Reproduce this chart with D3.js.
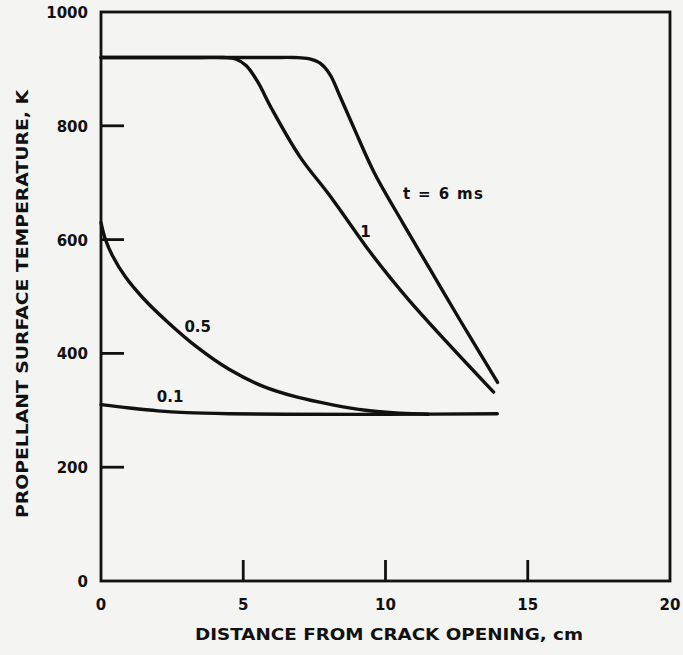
<!DOCTYPE html>
<html>
<head>
<meta charset="utf-8">
<script src="https://cdn.jsdelivr.net/npm/d3@7"></script>
<style>
  html, body { margin: 0; padding: 0; background: #f4f4f2; }
  svg { display: block; }
  text { font-family: "DejaVu Sans", "Liberation Sans", sans-serif; font-weight: bold; fill: #111; }
</style>
</head>
<body>
<div id="chart"></div>
<script>
// distance from crack opening (cm) and surface temperature (K) for each time
var x_6ms = [0, 3.0, 6.0, 6.8, 7.3, 7.7, 8.05, 8.4, 8.9, 9.6, 10.6, 11.6, 12.6, 13.94];
var t_6ms = [920, 920, 920, 920, 918, 910, 890, 852, 795, 718, 630, 545, 460, 349];

var x_1ms = [0, 2.0, 3.5, 4.3, 4.75, 5.1, 5.5, 6.0, 7.0, 8.0, 9.0, 9.4, 10.8, 13.8];
var t_1ms = [920, 920, 920, 920, 917, 906, 878, 830, 745, 680, 610, 582, 495, 332];

var x_05ms = [0, 0.15, 0.4, 0.85, 1.5, 2.3, 3.4, 4.5, 5.7, 6.9, 8.1, 9.3, 10.5, 11.5];
var t_05ms = [630, 601, 572, 535, 496, 457, 410, 372, 342, 323, 310, 300, 295, 293];

var x_01ms = [0, 1, 2, 3, 4.5, 6.5, 10, 13.93];
var t_01ms = [310, 304, 299, 296, 294, 293, 293, 294];

var curveLabels = ["t = 6 ms", "1", "0.5", "0.1"];
var xTicks = [0, 5, 10, 15, 20];
var yTicks = [0, 200, 400, 600, 800, 1000];

var w = 683;
var h = 655;
var margin = {left: 101, right: 13, top: 12, bottom: 74};

var svg = d3.select("#chart")
            .append("svg")
            .attr("width", w)
            .attr("height", h);

var x = d3.scaleLinear().domain([0, 20]).range([margin.left, w - margin.right]);
var y = d3.scaleLinear().domain([0, 1000]).range([h - margin.bottom, margin.top]);

// plot frame
svg.append("rect")
    .attr("x", x(0))
    .attr("y", y(1000))
    .attr("width", x(20) - x(0))
    .attr("height", y(0) - y(1000))
    .attr("fill", "none")
    .attr("stroke", "#111")
    .attr("stroke-width", 2.8);

// y ticks point inward
svg.selectAll(".ytick")
    .data(yTicks.filter(function(d) { return d > 0 && d < 1000; }))
    .enter()
    .append("line")
    .attr("x1", x(0))
    .attr("x2", x(0) + 23)
    .attr("y1", function(d) { return y(d); })
    .attr("y2", function(d) { return y(d); })
    .attr("stroke", "#111")
    .attr("stroke-width", 2.8);

svg.selectAll(".ylab")
    .data(yTicks)
    .enter()
    .append("text")
    .attr("x", x(0) - 13)
    .attr("y", function(d) { return y(d) + 6; })
    .attr("text-anchor", "end")
    .attr("font-size", 15)
    .text(function(d) { return d; });

// x ticks point upward
svg.selectAll(".xtick")
    .data(xTicks.filter(function(d) { return d > 0 && d < 20; }))
    .enter()
    .append("line")
    .attr("x1", function(d) { return x(d); })
    .attr("x2", function(d) { return x(d); })
    .attr("y1", y(0))
    .attr("y2", y(0) - 21)
    .attr("stroke", "#111")
    .attr("stroke-width", 2.8);

svg.selectAll(".xlab")
    .data(xTicks)
    .enter()
    .append("text")
    .attr("x", function(d) { return x(d); })
    .attr("y", y(0) + 29)
    .attr("text-anchor", "middle")
    .attr("font-size", 15)
    .text(function(d) { return d; });

// axis titles
svg.append("text")
    .attr("x", 389)
    .attr("y", 640)
    .attr("text-anchor", "middle")
    .attr("font-size", 15.5)
    .attr("textLength", 388)
    .attr("lengthAdjust", "spacingAndGlyphs")
    .text("DISTANCE FROM CRACK OPENING, cm");

svg.append("text")
    .attr("transform", "translate(28,304) rotate(-90)")
    .attr("text-anchor", "middle")
    .attr("font-size", 15.5)
    .attr("textLength", 428)
    .attr("lengthAdjust", "spacingAndGlyphs")
    .text("PROPELLANT SURFACE TEMPERATURE, K");

// curves
var series = [
    {xs: x_6ms, ts: t_6ms},
    {xs: x_1ms, ts: t_1ms},
    {xs: x_05ms, ts: t_05ms},
    {xs: x_01ms, ts: t_01ms}
];

var line = d3.line()
    .x(function(d) { return x(d[0]); })
    .y(function(d) { return y(d[1]); })
    .curve(d3.curveCatmullRom.alpha(0.5));

svg.selectAll(".curve")
    .data(series)
    .enter()
    .append("path")
    .attr("d", function(s) { return line(d3.zip(s.xs, s.ts)); })
    .attr("fill", "none")
    .attr("stroke", "#111")
    .attr("stroke-width", 3.4)
    .attr("stroke-linecap", "round");

// curve labels (data coordinates)
var labelX = [12.02, 9.3, 3.4, 2.43];
var labelT = [671, 605, 437, 314];

svg.selectAll(".clab")
    .data(curveLabels)
    .enter()
    .append("text")
    .attr("x", function(d, i) { return x(labelX[i]); })
    .attr("y", function(d, i) { return y(labelT[i]); })
    .attr("text-anchor", "middle")
    .attr("font-size", 15)
    .attr("textLength", function(d, i) { return i === 0 ? 80 : null; })
    .attr("lengthAdjust", "spacing")
    .text(function(d) { return d; });
</script>
</body>
</html>
